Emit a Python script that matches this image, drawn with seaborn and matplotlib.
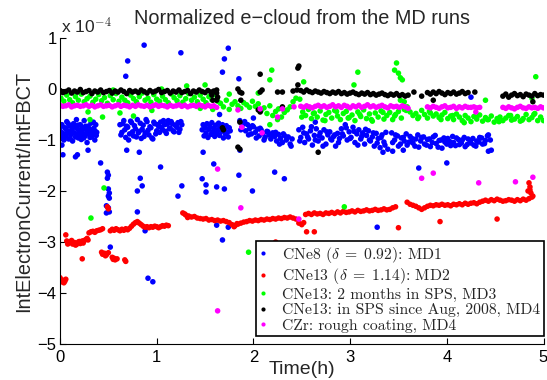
import matplotlib
matplotlib.use("Agg")
import matplotlib.pyplot as plt
import numpy as np
import pandas as pd
import seaborn as sns
from matplotlib.lines import Line2D

# ---------------- data (units of 1e-4) ----------------
series_labels = [
    r"CNe8 ($\delta\;=\;0.92$): MD1",
    r"CNe13 ($\delta\;=\;1.14$): MD2",
    r"CNe13: 2 months in SPS, MD3",
    r"CNe13: in SPS since Aug, 2008, MD4",
    r"CZr: rough coating, MD4",
]
series_colors = ["#0000ff", "#ff0000", "#00ff00", "#000000", "#ff00ff"]

# ---- MD4 (black + magenta share time stamps)
md4_t_a = [0.00,0.03,0.06,0.09,0.12,0.15,0.18,0.21,0.24,0.27,
           0.30,0.33,0.36,0.39,0.42,0.45,0.48,0.51,0.54,0.57,
           0.60,0.63,0.66,0.69,0.72,0.75,0.78,0.81,0.84,0.87,
           0.90,0.93,0.96,0.99,1.02,1.05,1.08,1.11,1.14,1.17,
           1.20,1.23,1.26,1.29,1.32,1.35,1.38,1.41,1.44,1.47,
           1.50,1.53,1.56,1.59,1.62]
md4_t_b = [2.49,2.52,2.55,2.58,2.61,2.64,2.67,2.70,2.73,2.76,
           2.79,2.82,2.85,2.88,2.91,2.94,2.97,3.00,3.03,3.06,
           3.09,3.12,3.15,3.18,3.21,3.24,3.27,3.30,3.33,3.36,
           3.39,3.42,3.45,3.48,3.51,3.54,3.57,3.60]
md4_t_c = [3.80,3.83,3.86,3.89,3.92,3.95,3.98,4.01,4.04,4.07,
           4.10,4.13,4.16,4.19,4.22]
md4_t_d = [4.58,4.61,4.64,4.67,4.70,4.73,4.76,4.79,4.82,4.85,
           4.88,4.91,4.94,4.97,5.00]

black_v_a = [-0.03,-0.07,-0.05,-0.02,-0.08,-0.04,-0.06,-0.01,-0.07,-0.05,
             -0.03,-0.09,-0.04,-0.06,-0.02,-0.07,-0.05,-0.03,-0.08,-0.04,
             -0.06,-0.02,-0.05,-0.09,-0.03,-0.06,-0.04,-0.07,-0.02,-0.05,
             -0.08,-0.03,-0.06,-0.04,-0.01,-0.07,-0.05,-0.03,-0.08,-0.04,
             -0.06,-0.02,-0.07,-0.05,-0.03,-0.09,-0.04,-0.06,-0.02,-0.05,
             -0.07,-0.03,-0.06,-0.04,-0.08]
black_v_b = [-0.03,-0.06,-0.02,-0.05,-0.07,-0.04,-0.06,-0.08,-0.05,-0.07,
             -0.09,-0.06,-0.08,-0.05,-0.09,-0.07,-0.10,-0.08,-0.06,-0.09,
             -0.11,-0.08,-0.10,-0.07,-0.11,-0.09,-0.12,-0.10,-0.08,-0.11,
             -0.13,-0.10,-0.12,-0.09,-0.13,-0.11,-0.14,-0.12]
black_v_c = [-0.07,-0.10,-0.06,-0.09,-0.05,-0.08,-0.11,-0.07,-0.09,-0.06,
             -0.10,-0.08,-0.05,-0.09,-0.07]
black_v_d = [-0.14,-0.10,-0.16,-0.12,-0.09,-0.13,-0.11,-0.15,-0.10,-0.12,
             -0.14,-0.09,-0.13,-0.11,-0.12]
black_extra_t = [1.57,1.58,1.63,1.62,1.68,1.69,1.62,1.84,1.86,1.88,
                 1.87,1.86,1.84,1.86,2.07,2.09,2.07,2.05,2.07,2.25,
                 2.30,2.30,2.46,2.47,2.46,2.41,2.45,2.67,3.66,3.74,
                 3.86,4.29,4.89]
black_extra_v = [-0.12,-0.22,-0.16,-0.22,-0.76,-0.80,-0.02,0.00,-0.06,-0.08,
                 -0.22,-0.65,-1.14,-1.18,0.29,-0.02,-0.06,-0.41,-0.45,-0.06,
                 -0.06,-0.35,0.41,0.45,0.08,-0.04,-0.02,-1.24,-0.06,-0.14,
                 -0.22,-0.06,-0.25]

magenta_v_a = [-0.32,-0.34,-0.33,-0.31,-0.35,-0.33,-0.32,-0.34,-0.33,-0.31,
               -0.34,-0.32,-0.35,-0.33,-0.31,-0.34,-0.33,-0.32,-0.35,-0.33,
               -0.31,-0.34,-0.32,-0.33,-0.35,-0.32,-0.34,-0.31,-0.33,-0.34,
               -0.32,-0.35,-0.33,-0.31,-0.34,-0.32,-0.33,-0.35,-0.32,-0.34,
               -0.33,-0.31,-0.34,-0.32,-0.35,-0.33,-0.32,-0.34,-0.31,-0.33,
               -0.35,-0.32,-0.34,-0.33,-0.36]
magenta_v_b = [-0.34,-0.36,-0.33,-0.35,-0.37,-0.34,-0.32,-0.35,-0.33,-0.36,
               -0.34,-0.31,-0.35,-0.33,-0.36,-0.32,-0.34,-0.37,-0.33,-0.35,
               -0.32,-0.36,-0.34,-0.31,-0.35,-0.33,-0.36,-0.34,-0.32,-0.35,
               -0.37,-0.33,-0.35,-0.34,-0.36,-0.33,-0.35,-0.38]
magenta_v_c = [-0.35,-0.37,-0.34,-0.36,-0.38,-0.35,-0.33,-0.37,-0.36,-0.34,
               -0.38,-0.35,-0.37,-0.34,-0.36]
magenta_v_d = [-0.36,-0.38,-0.35,-0.37,-0.39,-0.36,-0.34,-0.37,-0.38,-0.35,
               -0.37,-0.36,-0.38,-0.35,-0.37]
magenta_extra_t = [1.84,2.07,2.25,2.30,1.88,2.09,2.42,1.63,1.87,1.63,
                   3.74,3.86,4.33,4.71,4.89,2.47,4.25,4.28,4.31,4.34,
                   4.30]
magenta_extra_v = [-0.41,-0.39,-0.55,-0.39,-0.75,-0.86,-0.35,-1.57,-2.33,-4.35,
                   -1.75,-1.65,-1.84,-1.82,-1.73,-2.55,-0.36,-0.35,-0.37,-0.36,
                   -0.45]

# ---- MD3 (green)
green_t_a = [0.01,0.04,0.07,0.10,0.13,0.16,0.19,0.22,0.25,0.28,
             0.31,0.34,0.37,0.40,0.43,0.46,0.49,0.52,0.55,0.58,
             0.61,0.64,0.67,0.70,0.73,0.76,0.79,0.82,0.85,0.88,
             0.91,0.94,0.97,1.00,1.03,1.06,1.09,1.12,1.15,1.18,
             1.21,1.24,1.27,1.30,1.33,1.36,1.39,1.42,1.45,1.48,
             1.51,1.54,1.57,1.60,1.63]
green_v_a = [-0.18,-0.24,-0.12,-0.21,-0.27,-0.15,-0.22,-0.10,-0.25,-0.19,
             -0.14,-0.26,-0.20,-0.11,-0.23,-0.17,-0.28,-0.13,-0.21,-0.09,
             -0.24,-0.16,-0.22,-0.27,-0.12,-0.19,-0.25,-0.15,-0.08,-0.22,
             -0.18,-0.26,-0.11,-0.20,-0.24,-0.14,-0.21,-0.27,-0.10,-0.17,
             -0.23,-0.13,-0.26,-0.19,-0.09,-0.22,-0.16,-0.25,-0.12,-0.20,
             -0.27,-0.15,-0.21,-0.11,-0.24]
green_t_a2 = [1.66,1.69,1.72,1.75,1.78,1.81,1.84,1.87,1.90,1.93,
              1.96,1.99,2.02,2.05,2.08,2.11,2.14,2.17,2.20,2.23,
              2.26,2.29,2.32,2.35,2.38,2.41,2.44]
green_v_a2 = [-0.28,-0.35,-0.22,-0.40,-0.30,-0.25,-0.33,-0.38,-0.27,-0.31,
              -0.36,-0.24,-0.34,-0.29,-0.42,-0.37,-0.48,-0.33,-0.52,-0.44,
              -0.39,-0.55,-0.46,-0.41,-0.35,-0.25,-0.18]
green_t_b = [2.48,2.51,2.54,2.57,2.60,2.63,2.66,2.69,2.72,2.75,
             2.78,2.81,2.84,2.87,2.90,2.93,2.96,2.99,3.02,3.05,
             3.08,3.11,3.14,3.17,3.20,3.23,3.26,3.29,3.32,3.35,
             3.38,3.41,3.44,3.47,3.50,3.53,3.56,3.59]
green_v_b = [-0.20,-0.45,-0.52,-0.40,-0.58,-0.47,-0.55,-0.43,-0.61,-0.50,
             -0.46,-0.57,-0.42,-0.53,-0.60,-0.48,-0.44,-0.56,-0.51,-0.62,
             -0.45,-0.54,-0.41,-0.58,-0.49,-0.63,-0.47,-0.55,-0.43,-0.59,
             -0.52,-0.46,-0.60,-0.50,-0.44,-0.57,-0.40,-0.35]
green_t_c = [3.62,3.65,3.68,3.71,3.74,3.77,3.80,3.83,3.86,3.89,
             3.92,3.95,3.98,4.01,4.04,4.07,4.10,4.13,4.16,4.19,
             4.22,4.25,4.28,4.31,4.34,4.37,4.40,4.43,4.46,4.49,
             4.52,4.55,4.58,4.61,4.64,4.67,4.70,4.73,4.76,4.79,
             4.82,4.85,4.88,4.91,4.94,4.97]
green_v_c = [-0.45,-0.52,-0.48,-0.55,-0.42,-0.50,-0.57,-0.47,-0.53,-0.49,
             -0.56,-0.51,-0.46,-0.58,-0.53,-0.60,-0.49,-0.55,-0.62,-0.52,
             -0.57,-0.64,-0.54,-0.59,-0.51,-0.63,-0.56,-0.60,-0.53,-0.65,
             -0.58,-0.55,-0.62,-0.57,-0.52,-0.61,-0.59,-0.54,-0.63,-0.58,
             -0.50,-0.60,-0.56,-0.48,-0.62,-0.55]
green_extra_t = [1.31,1.50,0.55,1.05,0.29,0.31,0.44,0.62,0.76,0.95,
                 1.58,1.45,2.19,2.17,2.05,1.75,2.17,2.25,2.50,2.62,
                 2.74,2.86,2.98,3.10,3.22,3.34,3.46,3.58,3.70,3.82,
                 3.94,4.06,4.18,4.30,4.42,4.54,4.66,4.78,4.90,5.00,
                 3.48,3.46,3.50,3.52,3.54,3.08,3.04,2.52,4.92,4.40,
                 0.455,0.32,1.95,2.94,3.52,3.56,4.88]
green_extra_v = [0.06,0.08,-0.02,0.00,-0.45,-0.60,-0.55,-0.47,-0.53,-0.42,
                 -0.40,-0.38,0.37,0.18,-0.08,-0.10,-0.70,-0.60,-0.55,-0.48,
                 -0.62,-0.44,-0.57,-0.50,-0.60,-0.46,-0.53,-0.42,-0.58,-0.44,
                 -0.60,-0.52,-0.66,-0.55,-0.60,-0.64,-0.52,-0.61,-0.50,-0.62,
                 0.51,0.37,0.31,0.22,0.18,0.33,0.08,0.14,0.24,-0.22,
                 -1.94,-2.53,-3.20,-2.31,-0.22,-0.25,-0.18]

# ---- MD1 (blue)
blue_t_1 = [0.00,0.01,0.02,0.03,0.04,0.05,0.06,0.07,0.08,0.09,
            0.10,0.11,0.12,0.13,0.14,0.15,0.16,0.17,0.18,0.19,
            0.20,0.21,0.22,0.23,0.24,0.25,0.26,0.27,0.28,0.29,
            0.30,0.31,0.32,0.33,0.34,0.35,0.36,0.37,0.38,0.02,
            0.005,0.025,0.045,0.065,0.085,0.105,0.125,0.145,0.165,0.185,
            0.205,0.225,0.245,0.265,0.285,0.305,0.325,0.345,0.365,0.375]
blue_v_1 = [-0.82,-0.95,-0.70,-0.88,-1.00,-0.76,-0.92,-0.64,-0.85,-0.98,
            -0.72,-0.90,-0.80,-1.02,-0.68,-0.86,-0.94,-0.60,-0.78,-0.96,
            -0.84,-0.70,-0.99,-0.75,-0.88,-0.62,-0.92,-0.80,-1.05,-0.73,
            -0.86,-0.95,-0.67,-0.83,-0.90,-0.77,-1.00,-0.70,-0.85,-1.10,
            -0.74,-0.86,-0.93,-0.79,-0.68,-0.97,-0.84,-0.75,-0.89,-0.71,
            -0.92,-0.81,-0.96,-0.73,-0.87,-0.78,-0.94,-0.65,-0.83,-0.91]
blue_t_2 = [0.62,0.64,0.66,0.68,0.70,0.72,0.74,0.76,0.78,0.80,
            0.82,0.84,0.86,0.88,0.90,0.92,0.94,0.96,0.98,1.00,
            1.02,1.04,1.06,1.08,1.10,1.12,1.14,1.16,1.18,1.20,
            1.22,1.24,1.26,
            0.63,0.65,0.67,0.69,0.71,0.73,0.75,0.77,0.79,0.81,
            0.83,0.85,0.87,0.89,0.91,0.93,0.95,0.97,0.99,1.01,
            1.03,1.05,1.07,1.09,1.11,1.13,1.15,1.17,1.19,1.21,
            1.23,1.25]
blue_v_2 = [-0.70,-0.85,-0.62,-0.95,-0.75,-0.88,-0.66,-0.92,-0.78,-0.60,
            -0.83,-0.97,-0.71,-0.86,-0.64,-0.90,-0.76,-0.98,-0.68,-0.82,
            -0.73,-0.65,-0.80,-0.70,-0.87,-0.62,-0.77,-0.68,-0.84,-0.72,
            -0.66,-0.79,-0.70,
            -0.90,-0.68,-0.80,-0.73,-1.00,-0.63,-0.84,-0.72,-0.94,-0.86,
            -0.67,-0.79,-0.93,-0.60,-0.81,-0.74,-0.96,-0.65,-0.88,-0.70,
            -0.85,-0.76,-0.62,-0.83,-0.69,-0.78,-0.64,-0.82,-0.71,-0.75,
            -0.85,-0.64]
blue_t_3 = [1.47,1.48,1.49,1.50,1.51,1.52,1.53,1.54,1.55,1.56,
            1.57,1.58,1.59,1.60,1.61,1.62,1.63,1.64,1.65,1.66,
            1.67,1.68,1.69,1.70,1.71,1.72,1.73,1.74,1.75,1.76]
blue_v_3 = [-0.80,-0.70,-0.92,-0.76,-0.86,-0.68,-0.95,-0.79,-0.73,-0.89,
            -0.66,-0.84,-0.77,-0.93,-0.71,-0.87,-0.80,-0.67,-0.91,-0.75,
            -0.83,-0.70,-0.96,-0.78,-0.88,-0.72,-0.85,-0.94,-0.76,-0.82]
blue_t_4 = [1.86,1.88,1.90,1.92,1.94,1.96,1.98,2.00,2.02,2.04,
            2.06,2.08,2.10,2.12,2.14,2.16,2.18,2.20,2.22,2.24,
            2.26,2.28,2.30,2.32,2.34,2.36,2.38,2.40,
            1.87,1.91,1.95,1.99,2.03,2.07,2.11,2.15,2.19,2.23,
            2.27,2.31,2.35,2.39]
blue_v_4 = [-0.62,-0.75,-0.68,-0.82,-0.70,-0.78,-0.88,-0.74,-0.85,-0.79,
            -0.92,-0.80,-0.87,-0.95,-0.83,-0.90,-0.98,-0.86,-0.93,-1.02,
            -0.89,-0.97,-1.05,-0.91,-1.00,-0.94,-1.08,-0.98,
            -0.80,-0.64,-0.90,-0.72,-0.96,-0.77,-1.00,-0.84,-0.90,-0.85,
            -1.08,-0.88,-0.95,-1.12]
blue_t_5 = [2.47,2.49,2.51,2.53,2.55,2.57,2.59,2.61,2.63,2.65,
            2.67,2.69,2.71,2.73,2.75,2.77,2.79,2.81,2.83,2.85,
            2.87,2.89,
            2.48,2.52,2.56,2.60,2.64,2.68,2.72,2.76,2.80,2.84,2.88]
blue_v_5 = [-0.80,-0.95,-0.75,-1.05,-0.88,-0.98,-0.82,-1.10,-0.91,-0.78,
            -1.02,-0.86,-0.96,-0.80,-1.08,-0.90,-0.84,-1.00,-0.93,-1.12,
            -0.87,-0.97,
            -1.02,-0.86,-0.94,-0.74,-1.00,-0.92,-1.12,-0.84,-0.98,-0.90,-1.05]
blue_t_6 = [2.91,2.93,2.95,2.97,2.99,3.01,3.03,3.05,3.07,3.09,
            3.11,3.13,3.15,3.17,3.19,3.21,3.23,3.25,3.27,3.29,
            3.31,3.33,3.35,3.37,3.39,
            2.92,2.96,3.00,3.04,3.08,3.12,3.16,3.20,3.24,3.28,3.32,3.36]
blue_v_6 = [-0.78,-0.92,-0.70,-1.00,-0.84,-0.95,-0.75,-1.05,-0.88,-0.80,
            -0.98,-0.86,-1.08,-0.91,-0.82,-1.02,-0.94,-1.12,-0.87,-0.97,
            -1.15,-0.90,-1.04,-0.85,-1.18,
            -0.88,-0.76,-0.97,-0.83,-1.10,-0.93,-0.79,-1.00,-0.86,-1.06,-0.95,-1.10]
blue_t_7 = [3.43,3.46,3.49,3.52,3.55,3.58,3.61,3.64,3.67,3.70,
            3.73,3.76,3.79,3.82,3.85,3.88,3.91,3.94,3.97,4.00,
            4.03,4.06,4.09,4.12,4.15,4.18,4.21,4.24,4.27,4.30,
            4.33,4.36,4.39,4.42,4.45,
            3.44,3.47,3.50,3.53,3.56,3.59,3.62,3.65,3.68,3.71,
            3.74,3.77,3.80,3.83,3.86,3.89,3.92,3.95,3.98,4.01,
            4.04,4.07,4.10,4.13,4.16,4.19,4.22,4.25,4.28,4.31,
            4.34,4.37,4.40,4.43]
blue_v_7 = [-0.86,-1.00,-0.92,-1.08,-0.95,-0.88,-1.04,-0.97,-1.12,-0.90,
            -1.02,-0.94,-1.10,-0.98,-1.05,-0.91,-1.14,-1.00,-0.96,-1.08,
            -1.03,-0.93,-1.11,-0.99,-1.06,-0.95,-1.09,-1.01,-0.97,-1.12,
            -1.04,-0.96,-1.07,-0.92,-1.00,
            -1.05,-0.90,-1.12,-0.96,-1.02,-1.10,-0.93,-1.06,-0.98,-1.14,
            -0.95,-1.08,-0.99,-1.13,-0.94,-1.07,-1.01,-1.16,-1.04,-0.97,
            -1.11,-1.05,-0.96,-1.09,-1.00,-1.13,-0.98,-1.06,-1.10,-1.02,
            -0.95,-1.08,-1.01,-0.90]
blue_extra_t = [0.87,1.25,0.70,0.68,1.68,1.74,1.70,1.85,
                0.03,0.16,0.18,0.29,0.42,0.49,0.50,0.49,0.50,0.51,
                0.50,0.51,0.48,0.50,0.48,0.51,0.52,0.80,0.83,0.85,
                0.80,0.88,0.91,0.96,1.04,1.26,1.22,1.47,1.51,1.51,
                1.59,1.62,1.70,1.62,1.68,1.74,1.85,1.99,1.48,1.86,
                0.69,0.82,2.22,2.32,3.28,3.71,4.00,2.64,3.34,3.44,
                3.55,4.43,2.00,1.65,4.25,4.46]
blue_extra_v = [0.86,0.71,0.55,0.25,0.33,0.80,0.59,0.20,
                -1.29,-1.33,-1.29,-1.20,-1.45,-1.63,-1.69,-1.75,-1.96,-2.04,
                -2.10,-2.14,-2.29,-2.33,-2.43,-2.41,-3.10,-2.00,-1.75,-1.90,
                -2.41,-2.78,-3.71,-3.78,-1.53,-1.90,-2.10,-1.76,-1.88,-2.02,
                -1.47,-1.92,-1.96,-2.67,-2.96,-2.71,-1.69,-2.00,-1.24,-1.20,
                -1.20,-1.24,-1.63,-1.76,-2.71,-1.55,-1.45,-0.65,-1.24,-1.22,
                -1.20,-1.22,-0.57,-0.50,-0.16,-1.20]

# ---- MD2 (red)
red_t_1 = [0.00,0.01,0.02,0.03,0.04,0.05,0.06,0.06,
           0.07,0.09,0.11,0.13,0.15,0.17,0.19,0.21,0.23,0.25,0.27,0.29,
           0.08,0.12,0.16,0.20,0.24,0.28,0.23,
           0.30,0.32,0.34,0.36,0.38,0.40,0.42,0.44]
red_v_1 = [-3.70,-3.74,-3.78,-3.75,-3.80,-3.77,-3.73,-2.86,
           -2.98,-3.02,-2.99,-3.04,-3.01,-3.05,-3.00,-3.03,-2.98,-2.97,-2.95,-2.96,
           -3.04,-2.97,-3.06,-2.99,-3.02,-2.93,-3.33,
           -2.82,-2.80,-2.79,-2.81,-2.78,-2.77,-2.76,-2.74]
red_t_2 = [0.43,0.44,0.46,0.47,0.48,0.50,0.54,0.55,0.56,0.57,0.59,0.67,0.68,
           0.49,0.50,
           0.52,0.54,0.56,0.58,0.60,0.62,0.64,0.66,0.68,0.70,0.72,
           0.74,0.76,0.78,0.80,0.82,
           0.84,0.86,0.88,0.90,0.92,0.94,0.96,0.98,1.00,1.02,1.04,1.06,1.08,1.10,1.12]
red_v_2 = [-3.20,-3.24,-3.22,-3.27,-3.25,-3.21,-3.30,-3.34,-3.32,-3.35,-3.33,-3.35,-3.38,
           -2.31,-2.35,
           -2.78,-2.75,-2.77,-2.74,-2.76,-2.78,-2.75,-2.77,-2.74,-2.76,-2.73,
           -2.69,-2.65,-2.62,-2.60,-2.63,
           -2.66,-2.69,-2.71,-2.70,-2.72,-2.70,-2.71,-2.69,-2.70,-2.72,-2.70,-2.68,-2.69,-2.67,-2.68]
red_t_3 = [1.27,1.30,1.33,1.36,1.39,1.42,1.45,1.48,1.51,1.54,
           1.57,1.60,1.63,1.66,1.69,1.72,1.75,1.78,1.81,1.84,
           1.87,1.90,1.93,1.96,1.99,2.02,2.05,2.08,2.11,2.14,
           2.17,2.20,2.23,2.26,2.29,2.32,2.35,2.38,2.41,2.44,
           1.29,1.32,1.80,1.83,2.47,2.50,2.52,2.55,2.63,2.23,3.50]
red_v_3 = [-2.43,-2.47,-2.49,-2.51,-2.50,-2.53,-2.54,-2.55,-2.54,-2.57,
           -2.56,-2.58,-2.57,-2.59,-2.58,-2.60,-2.62,-2.66,-2.68,-2.65,
           -2.63,-2.61,-2.60,-2.58,-2.59,-2.57,-2.58,-2.56,-2.57,-2.55,
           -2.56,-2.54,-2.55,-2.53,-2.54,-2.52,-2.53,-2.51,-2.53,-2.55,
           -2.45,-2.52,-2.70,-2.64,-2.63,-2.66,-2.62,-2.80,-2.80,-3.00,-2.72]
red_t_4 = [2.54,2.57,2.60,2.63,2.66,2.69,2.72,2.75,2.78,2.81,
           2.84,2.87,2.90,2.93,2.96,2.99,3.02,3.05,3.08,3.11,
           3.14,3.17,3.20,3.23,3.26,3.29,3.32,3.35,3.38,3.41,
           3.44,3.47]
red_v_4 = [-2.46,-2.44,-2.46,-2.43,-2.45,-2.44,-2.46,-2.43,-2.44,-2.42,
           -2.44,-2.41,-2.43,-2.40,-2.42,-2.41,-2.39,-2.41,-2.38,-2.40,
           -2.39,-2.37,-2.39,-2.38,-2.36,-2.38,-2.37,-2.35,-2.37,-2.36,
           -2.33,-2.31]
red_t_5 = [3.59,3.62,3.65,3.68,3.71,3.74,3.77,3.80,3.83,3.86,
           3.89,3.92,3.95,3.98,4.01,4.04,4.07,4.10,4.13,4.16,
           4.19,4.22,4.25,4.28,4.31,4.34,3.93,
           4.37,4.40,4.43,4.46,4.49,4.52,4.55,4.58,4.61,4.64,
           4.67,4.70,4.73,4.76,4.79,4.82,4.85,4.52,
           4.84,4.86,4.88,4.85,4.87,4.89,4.86]
red_v_5 = [-2.22,-2.26,-2.28,-2.30,-2.33,-2.36,-2.33,-2.30,-2.28,-2.29,
           -2.27,-2.28,-2.26,-2.28,-2.27,-2.29,-2.26,-2.27,-2.25,-2.27,
           -2.24,-2.26,-2.24,-2.23,-2.25,-2.22,-2.60,
           -2.20,-2.18,-2.20,-2.17,-2.19,-2.16,-2.18,-2.20,-2.19,-2.17,
           -2.18,-2.20,-2.17,-2.19,-2.16,-2.18,-2.15,-2.55,
           -2.00,-1.92,-2.12,-1.84,-2.04,-2.10,-1.98]

# ---------------- assemble ----------------
segments = [
    (0, blue_t_1, blue_v_1), (0, blue_t_2, blue_v_2), (0, blue_t_3, blue_v_3),
    (0, blue_t_4, blue_v_4), (0, blue_t_5, blue_v_5), (0, blue_t_6, blue_v_6),
    (0, blue_t_7, blue_v_7), (0, blue_extra_t, blue_extra_v),
    (1, red_t_1, red_v_1), (1, red_t_2, red_v_2), (1, red_t_3, red_v_3),
    (1, red_t_4, red_v_4), (1, red_t_5, red_v_5),
    (2, green_t_a, green_v_a), (2, green_t_a2, green_v_a2), (2, green_t_b, green_v_b),
    (2, green_t_c, green_v_c), (2, green_extra_t, green_extra_v),
    (3, md4_t_a, black_v_a), (3, md4_t_b, black_v_b), (3, md4_t_c, black_v_c),
    (3, md4_t_d, black_v_d), (3, black_extra_t, black_extra_v),
    (4, md4_t_a, magenta_v_a), (4, md4_t_b, magenta_v_b), (4, md4_t_c, magenta_v_c),
    (4, md4_t_d, magenta_v_d), (4, magenta_extra_t, magenta_extra_v),
]
frames = []
for idx, tt, vv in segments:
    n = min(len(tt), len(vv))
    frames.append(pd.DataFrame({"time": tt[:n], "value": vv[:n],
                                "series": series_labels[idx]}))
df = pd.concat(frames, ignore_index=True)

# ---------------- plot ----------------
sns.set_style("ticks")
plt.rcParams["font.family"] = ["Liberation Sans", "DejaVu Sans"]
plt.rcParams["mathtext.fontset"] = "cm"

fig = plt.figure(figsize=(5.47, 3.80), dpi=100)
ax = fig.add_axes([60/547, 36/380, 483.5/547, 306/380])

sns.scatterplot(data=df, x="time", y="value", hue="series",
                hue_order=series_labels, palette=series_colors,
                s=16, linewidth=0, marker="o", ax=ax, legend=False)

ax.set_xlim(0, 5)
ax.set_ylim(-5, 1)
ax.set_xticks([0, 1, 2, 3, 4, 5])
ax.set_yticks([-5, -4, -3, -2, -1, 0, 1])
for s in ["top", "right"]:
    ax.spines[s].set_visible(False)
for s in ["left", "bottom"]:
    ax.spines[s].set_color("black")
    ax.spines[s].set_linewidth(0.8)
ax.tick_params(axis="both", direction="in", length=4, width=0.8,
               colors="black", labelsize=12)
ax.tick_params(axis="x", pad=4.0)
ax.tick_params(axis="y", pad=2.5)

ax.set_xlabel("Time(h)", fontsize=14, labelpad=-2.5)
ax.set_ylabel("IntElectronCurrent/IntFBCT", fontsize=14.3, labelpad=3)
ax.set_title("Normalized e\u2212cloud from the MD runs", fontsize=14.3, pad=10)
ax.text(0.002, 1.006, r"x 10$^{\mathsf{-4}}$", transform=ax.transAxes,
        ha="left", va="bottom", fontsize=12.5)

handles = [Line2D([], [], linestyle="", marker="o", markersize=3,
                  markerfacecolor=c, markeredgewidth=0) for c in series_colors]
leg = ax.legend(handles, series_labels, loc="lower right",
                bbox_to_anchor=(1.0, 0.026), frameon=True, fancybox=False,
                edgecolor="black", framealpha=1.0,
                prop={"family": "cmr10", "size": 11.3},
                handlelength=0.6, handletextpad=0.9, borderpad=0.2,
                labelspacing=0.1, borderaxespad=0)
leg.get_frame().set_linewidth(1.2)

fig.savefig("out.png", dpi=100)
